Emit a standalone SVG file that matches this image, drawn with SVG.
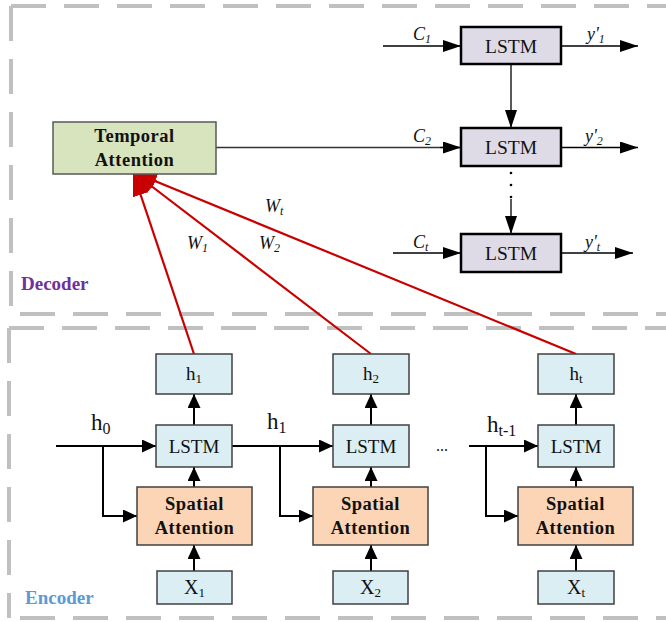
<svg xmlns="http://www.w3.org/2000/svg" width="666" height="622" viewBox="0 0 666 622">
<style>
.dash{stroke:#C0C0C0;stroke-width:4;stroke-dasharray:35 18;fill:none}
.enc{fill:#DAEEF3;stroke:#404040;stroke-width:1.5}
.sa{fill:#FBD5B5;stroke:#404040;stroke-width:1.5}
.ta{fill:#D7E4BD;stroke:#595959;stroke-width:1.5}
.dl{fill:#DEDAE6;stroke:#000;stroke-width:2.5}
.t{font-family:"Liberation Serif","Times New Roman",serif;fill:#111}
.b{font-weight:bold;letter-spacing:0.5px}
.i{font-style:italic}
.cd{stroke:#000;stroke-width:1.3;fill:none}
.ce{stroke:#000;stroke-width:2;fill:none}
.red{stroke:#C80000;stroke-width:2.2;fill:none}
</style>
<defs>
<marker id="ad" markerUnits="userSpaceOnUse" viewBox="0 0 18 12" markerWidth="18" markerHeight="12" refX="18" refY="6" orient="auto"><path d="M0,0 L18,6 L0,12 z" fill="#000"/></marker>
<marker id="ae" markerUnits="userSpaceOnUse" viewBox="0 0 14 13" markerWidth="14" markerHeight="13" refX="14" refY="6.5" orient="auto"><path d="M0,0 L14,6.5 L0,13 z" fill="#000"/></marker>
<marker id="ar" markerUnits="userSpaceOnUse" viewBox="0 0 24 16" markerWidth="24" markerHeight="16" refX="24" refY="8" orient="auto"><path d="M0,0 L24,8 L0,16 z" fill="#C80000"/></marker>
</defs>

<g id="frames">
<line class="dash" x1="11" y1="6" x2="666" y2="6"/>
<line class="dash" x1="11" y1="6" x2="11" y2="314"/>
<line class="dash" x1="20" y1="314" x2="666" y2="314"/>
<line class="dash" x1="9" y1="328" x2="666" y2="328"/>
<line class="dash" x1="9" y1="328" x2="9" y2="618"/>
<line class="dash" x1="20" y1="618" x2="666" y2="618"/>
<text class="t b" x="21" y="290" font-size="19" style="fill:#7030A0;letter-spacing:0">Decoder</text>
<text class="t b" x="25" y="604" font-size="19" style="fill:#5B9BD5;letter-spacing:0">Encoder</text>
</g>

<g id="connectors">
<line class="red" x1="194" y1="354" x2="133" y2="172" marker-end="url(#ar)"/>
<line class="red" x1="371" y1="354" x2="133" y2="172" marker-end="url(#ar)"/>
<line class="red" x1="576" y1="354" x2="133" y2="172" marker-end="url(#ar)"/>
<line class="cd" x1="383" y1="46" x2="461" y2="46" marker-end="url(#ad)"/>
<line class="cd" x1="216" y1="147.5" x2="461" y2="147.5" style="stroke:#333"/>
<line class="cd" x1="440" y1="147.5" x2="461" y2="147.5" marker-end="url(#ad)"/>
<line class="cd" x1="393" y1="253" x2="461" y2="253" marker-end="url(#ad)"/>
<line class="cd" x1="561" y1="46" x2="638" y2="46" marker-end="url(#ad)"/>
<line class="cd" x1="561" y1="147.5" x2="638" y2="147.5" marker-end="url(#ad)"/>
<line class="cd" x1="561" y1="253" x2="633" y2="253" marker-end="url(#ad)"/>
<line class="cd" x1="511" y1="64" x2="511" y2="128" marker-end="url(#ad)"/>
<line class="cd" x1="511" y1="199" x2="511" y2="234" marker-end="url(#ad)"/>
<circle cx="511" cy="173" r="1.3" fill="#000"/>
<circle cx="511" cy="185" r="1.3" fill="#000"/>
<circle cx="511" cy="197" r="1.3" fill="#000"/>
<line class="ce" x1="56" y1="446" x2="156" y2="446" marker-end="url(#ae)"/>
<polyline class="ce" points="103,446 103,516 137,516" marker-end="url(#ae)"/>
<line class="ce" x1="232" y1="446" x2="333" y2="446" marker-end="url(#ae)"/>
<polyline class="ce" points="280,446 280,516 313,516" marker-end="url(#ae)"/>
<line class="ce" x1="469" y1="446" x2="538" y2="446" marker-end="url(#ae)"/>
<polyline class="ce" points="486,446 486,516 518,516" marker-end="url(#ae)"/>
<line class="ce" x1="194" y1="425" x2="194" y2="394" marker-end="url(#ae)"/>
<line class="ce" x1="194" y1="487" x2="194" y2="467" marker-end="url(#ae)"/>
<line class="ce" x1="194" y1="571" x2="194" y2="545" marker-end="url(#ae)"/>
<line class="ce" x1="371" y1="425" x2="371" y2="394" marker-end="url(#ae)"/>
<line class="ce" x1="371" y1="487" x2="371" y2="467" marker-end="url(#ae)"/>
<line class="ce" x1="371" y1="571" x2="371" y2="545" marker-end="url(#ae)"/>
<line class="ce" x1="576" y1="425" x2="576" y2="394" marker-end="url(#ae)"/>
<line class="ce" x1="576" y1="487" x2="576" y2="467" marker-end="url(#ae)"/>
<line class="ce" x1="576" y1="571" x2="576" y2="545" marker-end="url(#ae)"/>
</g>

<g id="labels">
<text class="t i" x="413" y="40" font-size="18">C<tspan font-size="12" dy="3">1</tspan></text>
<text class="t i" x="413" y="142" font-size="18">C<tspan font-size="12" dy="3">2</tspan></text>
<text class="t i" x="413" y="248" font-size="18">C<tspan font-size="12" dy="3">t</tspan></text>
<text class="t i" x="587" y="40" font-size="18">y'<tspan font-size="12" dy="3">1</tspan></text>
<text class="t i" x="585" y="142" font-size="18">y'<tspan font-size="12" dy="3">2</tspan></text>
<text class="t i" x="585" y="248" font-size="18">y'<tspan font-size="12" dy="3">t</tspan></text>
<text class="t i" x="187" y="249" font-size="18">W<tspan font-size="12" dy="3">1</tspan></text>
<text class="t i" x="259" y="249" font-size="18">W<tspan font-size="12" dy="3">2</tspan></text>
<text class="t i" x="265" y="212" font-size="18">W<tspan font-size="12" dy="3">t</tspan></text>
<text class="t" x="91" y="430" font-size="23">h<tspan font-size="16" dy="4">0</tspan></text>
<text class="t" x="267" y="429" font-size="23">h<tspan font-size="16" dy="4">1</tspan></text>
<text class="t" x="487" y="432" font-size="23">h<tspan font-size="16" dy="4">t-1</tspan></text>
<text class="t" x="442" y="451" font-size="16" text-anchor="middle">...</text>
</g>

<g id="temporal-attention">
<rect class="ta" x="53" y="122" width="163" height="52"/>
<text class="t b" x="134.5" y="142" font-size="18.5" text-anchor="middle">Temporal</text>
<text class="t b" x="134.5" y="166" font-size="18.5" text-anchor="middle">Attention</text>
</g>

<g id="dec-lstm-1"><rect class="dl" x="461" y="27" width="100" height="37"/><text class="t" x="511" y="52.5" font-size="19.5" text-anchor="middle">LSTM</text></g>
<g id="dec-lstm-2"><rect class="dl" x="461" y="128" width="100" height="38"/><text class="t" x="511" y="154" font-size="19.5" text-anchor="middle">LSTM</text></g>
<g id="dec-lstm-t"><rect class="dl" x="461" y="234" width="100" height="38"/><text class="t" x="511" y="260" font-size="19.5" text-anchor="middle">LSTM</text></g>

<g id="enc-h1"><rect class="enc" x="156" y="354" width="76" height="40"/><text class="t" x="194" y="380" font-size="19" text-anchor="middle">h<tspan font-size="13" dy="3">1</tspan></text></g>
<g id="enc-h2"><rect class="enc" x="333" y="354" width="76" height="40"/><text class="t" x="371" y="380" font-size="19" text-anchor="middle">h<tspan font-size="13" dy="3">2</tspan></text></g>
<g id="enc-ht"><rect class="enc" x="538" y="354" width="76" height="40"/><text class="t" x="576" y="380" font-size="19" text-anchor="middle">h<tspan font-size="13" dy="3">t</tspan></text></g>

<g id="enc-lstm-1"><rect class="enc" x="156" y="425" width="76" height="42"/><text class="t" x="194" y="453" font-size="19" text-anchor="middle">LSTM</text></g>
<g id="enc-lstm-2"><rect class="enc" x="333" y="425" width="76" height="42"/><text class="t" x="371" y="453" font-size="19" text-anchor="middle">LSTM</text></g>
<g id="enc-lstm-t"><rect class="enc" x="538" y="425" width="76" height="42"/><text class="t" x="576" y="453" font-size="19" text-anchor="middle">LSTM</text></g>

<g id="spatial-1"><rect class="sa" x="137" y="487" width="115" height="58"/><text class="t b" x="194.5" y="510" font-size="18.5" text-anchor="middle">Spatial</text><text class="t b" x="194.5" y="534" font-size="18.5" text-anchor="middle">Attention</text></g>
<g id="spatial-2"><rect class="sa" x="313" y="487" width="115" height="58"/><text class="t b" x="370.5" y="510" font-size="18.5" text-anchor="middle">Spatial</text><text class="t b" x="370.5" y="534" font-size="18.5" text-anchor="middle">Attention</text></g>
<g id="spatial-t"><rect class="sa" x="518" y="487" width="115" height="58"/><text class="t b" x="575.5" y="510" font-size="18.5" text-anchor="middle">Spatial</text><text class="t b" x="575.5" y="534" font-size="18.5" text-anchor="middle">Attention</text></g>

<g id="x1"><rect class="enc" x="157" y="571" width="75" height="33"/><text class="t" x="194.5" y="594" font-size="20" text-anchor="middle">X<tspan font-size="13" dy="3">1</tspan></text></g>
<g id="x2"><rect class="enc" x="333" y="571" width="75" height="33"/><text class="t" x="370.5" y="594" font-size="20" text-anchor="middle">X<tspan font-size="13" dy="3">2</tspan></text></g>
<g id="xt"><rect class="enc" x="538" y="571" width="76" height="33"/><text class="t" x="576" y="594" font-size="20" text-anchor="middle">X<tspan font-size="13" dy="3">t</tspan></text></g>
</svg>
